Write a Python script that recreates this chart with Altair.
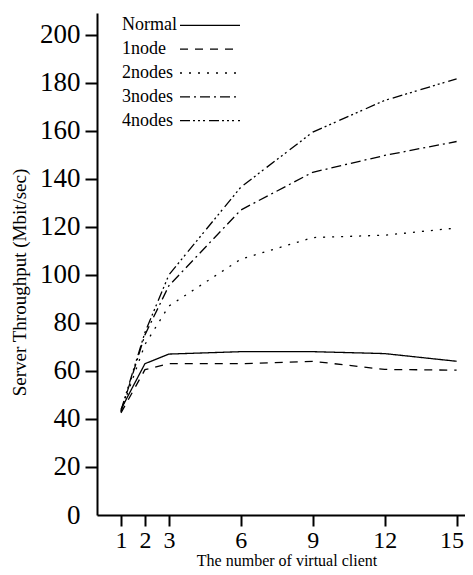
import altair as alt
import pandas as pd

clients = [1, 2, 3, 6, 9, 12, 15]
series = ["Normal", "1node", "2nodes", "3nodes", "4nodes"]
normal = [44.0, 63.0, 67.0, 68.0, 68.0, 67.2, 64.0]
node1 = [42.5, 60.5, 63.0, 63.0, 64.0, 60.6, 60.3]
node2 = [43.0, 71.0, 87.0, 106.5, 115.5, 116.5, 119.5]
node3 = [43.0, 75.0, 95.5, 127.0, 142.7, 149.7, 155.5]
node4 = [43.5, 76.0, 100.0, 136.5, 159.4, 172.6, 181.6]
y_ticks = [0, 20, 40, 60, 80, 100, 120, 140, 160, 180, 200]

rows = []
for name, vals in zip(series, [normal, node1, node2, node3, node4]):
    for c, v in zip(clients, vals):
        rows.append({"series": name, "clients": c, "value": v})
df = pd.DataFrame(rows)

legend_df = pd.DataFrame({"series": series, "idx": list(range(len(series)))})

dash_range = [[1, 0], [8, 7], [2, 7], [10, 4, 2, 4], [10, 3, 2, 3, 2, 3, 2, 4]]
dash = alt.StrokeDash("series:N", scale=alt.Scale(domain=series, range=dash_range), legend=None)

FONT = "Liberation Serif"
xs = alt.Scale(domain=[0, 15.35], nice=False, zero=False)
ys = alt.Scale(domain=[0, 209], nice=False)
ytitle = "Server Throughput (Mbit/sec)"

lines = alt.Chart(df).mark_line(color="black", strokeWidth=1.3).encode(
    x=alt.X("clients:Q", scale=xs,
            axis=alt.Axis(values=clients, title="The number of virtual client",
                          tickSize=11, labelPadding=2, labelFontSize=24,
                          labelOffset=alt.ExprRef("datum.value == 15 ? -5 : 0"),
                          titleX=189.5, titleY=50, titleBaseline="alphabetic",
                          titleFont=FONT, titleFontSize=16)),
    y=alt.Y("value:Q", scale=ys,
            axis=alt.Axis(values=y_ticks, title=ytitle, labelPadding=5,
                          tickColor=alt.ExprRef("datum.value == 0 ? 'transparent' : 'black'"),
                          titleFont=FONT, titleFontSize=19, titleX=-77.5, titleY=269,
                          titleAlign="center", titleBaseline="middle")),
    strokeDash=dash,
    order="clients:Q",
)

leg_base = alt.Chart(legend_df).transform_calculate(value="203.84 - 9.91 * datum.idx")

leg_text = leg_base.mark_text(align="left", baseline="middle", font=FONT, fontSize=18,
                              color="black").encode(
    x=alt.value(25),
    y=alt.Y("value:Q", scale=ys, title=ytitle),
    text="series:N",
)
leg_rule = leg_base.mark_rule(color="black", strokeWidth=1.3).encode(
    x=alt.value(83), x2=alt.value(143),
    y=alt.Y("value:Q", scale=ys, title=ytitle),
    strokeDash=dash,
)

chart = alt.layer(lines, leg_rule, leg_text).properties(
    width=368, height=502,
    autosize=alt.AutoSizeParams(type="none"),
    padding={"left": 89, "top": 5, "right": 0, "bottom": 52},
).configure_axis(
    grid=False, domainColor="black", domainWidth=2, tickColor="black", tickWidth=2,
    tickSize=12, labelFont=FONT, labelFontSize=27, labelColor="black",
    titleFont=FONT, titleFontWeight="normal", titleColor="black",
).configure_view(stroke=None)

chart.save("out.html", embed_options={"renderer": "svg", "actions": False})
